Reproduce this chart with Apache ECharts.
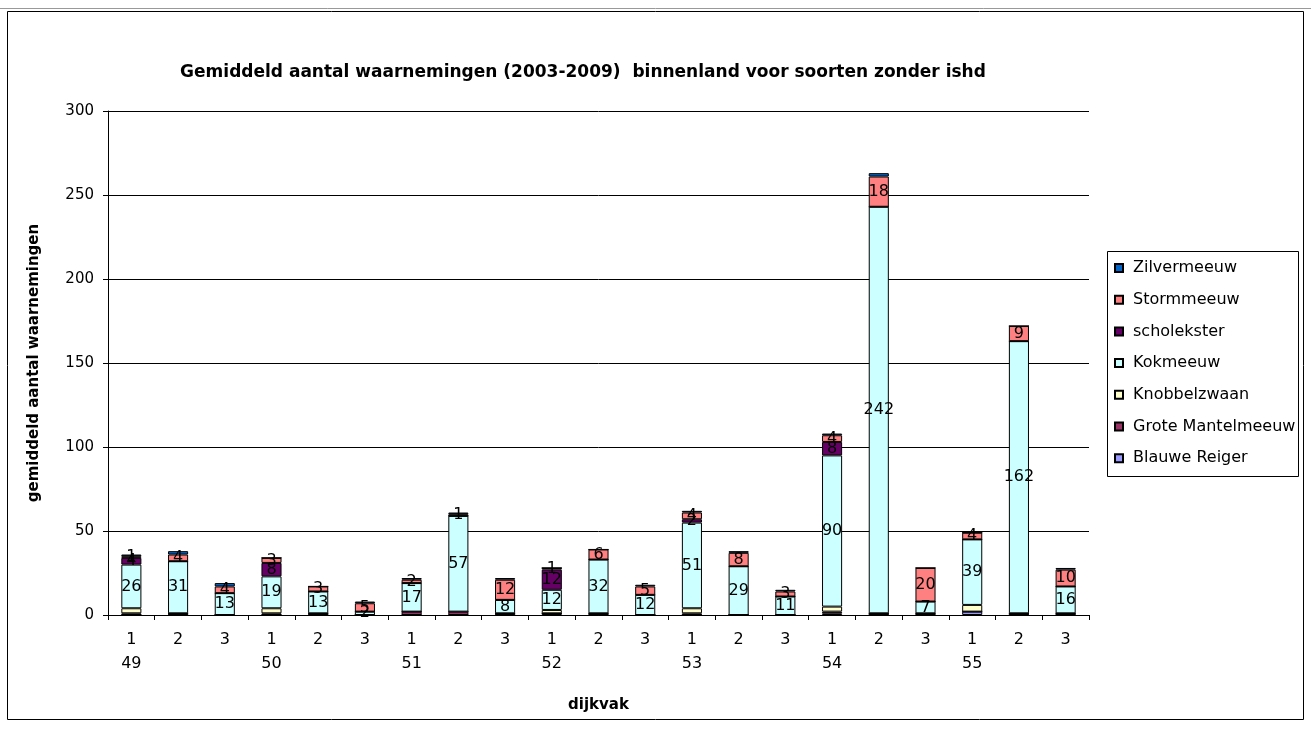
<!DOCTYPE html>
<html>
<head>
<meta charset="utf-8">
<script src="https://cdn.jsdelivr.net/npm/echarts@6/dist/echarts.min.js"></script>
<style>
  html, body { margin: 0; padding: 0; background: #fff; }
  #chart { width: 1311px; height: 731px; }
</style>
</head>
<body>
<div id="chart"></div>
<script>
// dijkvak (49..55), each split into sections 1..3
const categories = [
  '1\n49', '2', '3', '1\n50', '2', '3', '1\n51', '2', '3', '1\n52', '2', '3',
  '1\n53', '2', '3', '1\n54', '2', '3', '1\n55', '2', '3'
];

// mean number of observations per species (stacked bottom to top)
const blauweReiger     = [0, 0, 0, 0, 0, 0, 0, 0, 0, 1, 0, 0, 0, 0, 0, 1, 0, 0, 2, 0, 0];
const groteMantelmeeuw = [1, 1, 0, 1, 1, 0, 2, 2, 1, 0, 1, 0, 1, 0, 0, 1, 1, 1, 0, 1, 1];
const knobbelzwaan     = [3, 0, 0, 3, 0, 0, 0, 0, 0, 2, 0, 0, 3, 0, 0, 3, 0, 0, 4, 0, 0];
const kokmeeuw         = [26, 31, 13, 19, 13, 2, 17, 57, 8, 12, 32, 12, 51, 29, 11, 90, 242, 7, 39, 162, 16];
const scholekster      = [4, 0, 0, 8, 0, 0, 0, 0, 0, 12, 0, 0, 2, 0, 0, 8, 0, 0, 0, 0, 0];
const stormmeeuw       = [1, 4, 4, 3, 3, 5, 2, 1, 12, 1, 6, 5, 4, 8, 3, 4, 18, 20, 4, 9, 10];
const zilvermeeuw      = [1, 2, 2, 0, 0, 1, 1, 1, 1, 0, 0, 1, 1, 1, 1, 1, 2, 0, 0, 0, 1];

const yTicks = { min: 0, max: 300, interval: 50 };

const FONT = 'DejaVu Sans';

const speciesList = [
  { name: 'Blauwe Reiger',     data: blauweReiger,     color: '#9999FF', label: false },
  { name: 'Grote Mantelmeeuw', data: groteMantelmeeuw, color: '#993366', label: false },
  { name: 'Knobbelzwaan',      data: knobbelzwaan,     color: '#FFFFCC', label: false },
  { name: 'Kokmeeuw',          data: kokmeeuw,         color: '#CCFFFF', label: true },
  { name: 'scholekster',       data: scholekster,      color: '#660066', label: true },
  { name: 'Stormmeeuw',        data: stormmeeuw,       color: '#FF8080', label: true },
  { name: 'Zilvermeeuw',       data: zilvermeeuw,      color: '#0066CC', label: false }
];

const series = speciesList.map(s => ({
  name: s.name,
  type: 'bar',
  stack: 'totaal',
  barWidth: '43%',
  data: s.data,
  itemStyle: { color: s.color, borderColor: '#000', borderWidth: 1 },
  label: {
    show: s.label,
    position: 'inside',
    color: '#000',
    fontFamily: FONT,
    fontSize: 16,
    formatter: p => (p.value > 0 ? String(p.value) : '')
  },
  emphasis: { disabled: true },
  animation: false
}));

const chart = echarts.init(document.getElementById('chart'), null, { renderer: 'canvas' });

chart.setOption({
  backgroundColor: '#fff',
  animation: false,
  color: speciesList.map(s => s.color),
  title: {
    text: 'Gemiddeld aantal waarnemingen (2003-2009)  binnenland voor soorten zonder ishd',
    left: 583,
    top: 64,
    textAlign: 'center',
    padding: 0,
    textStyle: { fontFamily: FONT, fontSize: 17, fontWeight: 'bold', color: '#000' }
  },
  legend: {
    orient: 'vertical',
    left: 1114,
    top: 260,
    padding: 0,
    itemWidth: 8,
    itemHeight: 8,
    itemGap: 15.7,
    icon: 'rect',
    data: ['Zilvermeeuw', 'Stormmeeuw', 'scholekster', 'Kokmeeuw', 'Knobbelzwaan', 'Grote Mantelmeeuw', 'Blauwe Reiger'],
    textStyle: { fontFamily: FONT, fontSize: 16, lineHeight: 16, color: '#000', padding: [0, 0, 0, 5] },
    selectedMode: false
  },
  grid: { left: 108, right: 222, top: 111, bottom: 116, containLabel: false },
  xAxis: {
    type: 'category',
    data: categories,
    name: 'dijkvak',
    nameLocation: 'middle',
    nameGap: 83,
    nameTextStyle: { fontFamily: FONT, fontSize: 15, fontWeight: 'bold', color: '#000' },
    axisLine: { lineStyle: { color: '#000', width: 1 } },
    axisTick: { show: true, alignWithLabel: false, length: 5, lineStyle: { color: '#000' } },
    axisLabel: {
      interval: 0,
      margin: 13,
      fontFamily: FONT,
      fontSize: 16,
      lineHeight: 24,
      color: '#000'
    }
  },
  yAxis: {
    type: 'value',
    min: yTicks.min,
    max: yTicks.max,
    interval: yTicks.interval,
    name: 'gemiddeld aantal waarnemingen',
    nameLocation: 'middle',
    nameGap: 66,
    nameTextStyle: { fontFamily: FONT, fontSize: 15, fontWeight: 'bold', color: '#000' },
    axisLine: { show: true, lineStyle: { color: '#000', width: 1 } },
    axisTick: { show: true, length: 5, lineStyle: { color: '#000' } },
    axisLabel: { margin: 14, fontFamily: FONT, fontSize: 15, color: '#000' },
    splitLine: { show: true, lineStyle: { color: '#000', width: 1 } }
  },
  graphic: [
    {
      type: 'line',
      shape: { x1: 0, y1: 8.5, x2: 1311, y2: 8.5 },
      style: { stroke: '#999', lineWidth: 1 },
      silent: true
    },
    {
      type: 'rect',
      shape: { x: 7.5, y: 11.5, width: 1296, height: 708 },
      style: { fill: null, stroke: '#000', lineWidth: 1 },
      silent: true,
      z: -1
    },
    {
      type: 'rect',
      shape: { x: 1107.5, y: 251.5, width: 191, height: 225 },
      style: { fill: '#fff', stroke: '#000', lineWidth: 1 },
      silent: true,
      z: -1
    }
  ],
  series: series
});
</script>
</body>
</html>
